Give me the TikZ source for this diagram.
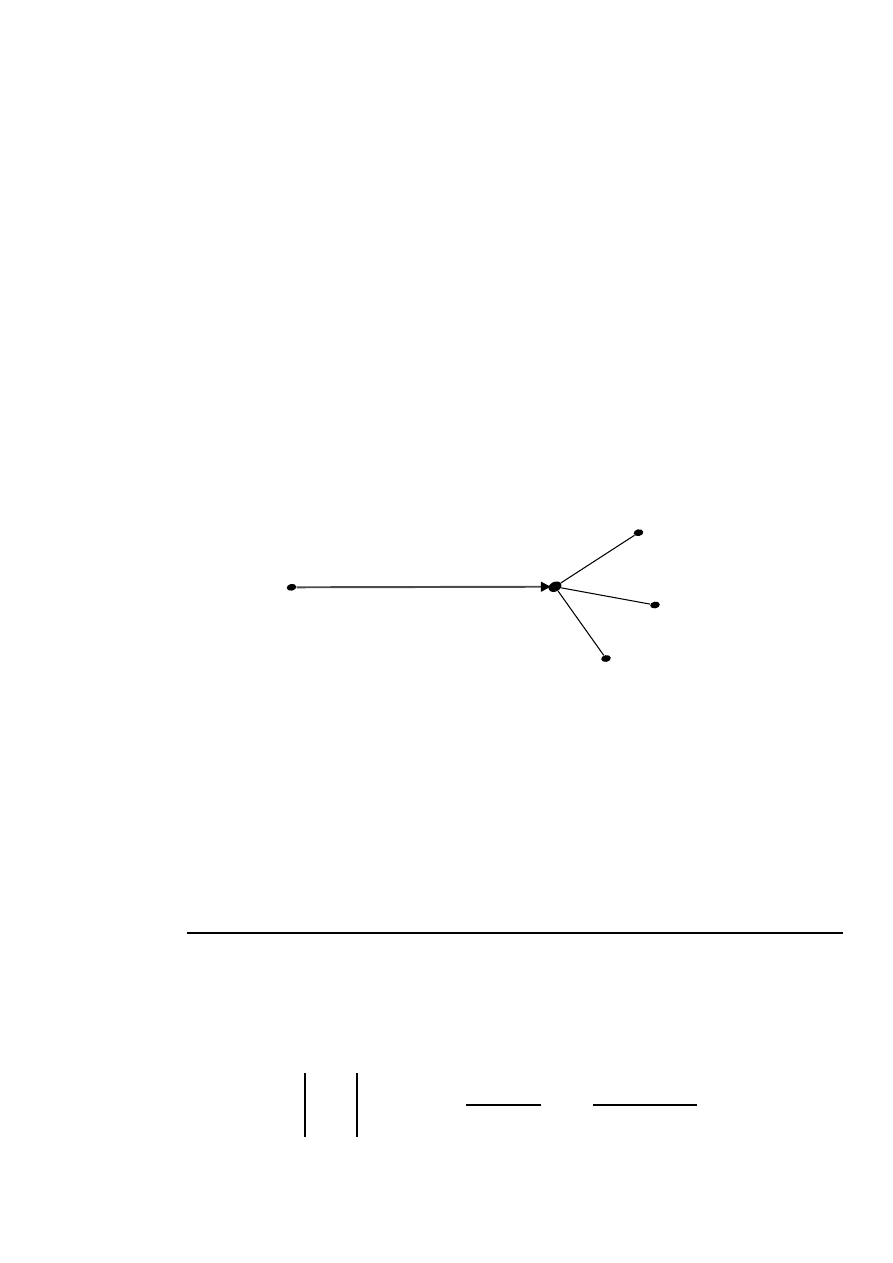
\documentclass[tikz,border=0pt]{standalone}
\usepackage{tikz}
\usetikzlibrary{arrows.meta, shapes.geometric}

\tikzset{
	vert/.style={ellipse, fill=black, inner sep=0pt, minimum width=6.5pt, minimum height=4.5pt, rotate=10},
	hub/.style={ellipse, fill=black, inner sep=0pt, minimum width=9pt, minimum height=6.5pt, rotate=25},
	spoke/.style={-, black, line width=0.7pt},
	bar/.style={-, black, line width=1.5pt, line cap=butt}
}

\begin{document}
\begin{tikzpicture}[x=0.023516cm, y=-0.023516cm, >=Triangle]

		% page frame
		\useasboundingbox (0,0) rectangle (893,1263);

		% graph vertices
		\node[vert] (L) at (291.5,587.3) {};
		\node[hub] (C) at (555,586.7) {};
		\node[vert] (T) at (638.5,532.7) {};
		\node[vert] (R) at (655,605) {};
		\node[vert] (B) at (606,658.5) {};

		% edges
		\draw [->,black!70,line width=1.3pt,shorten >=-1.5pt,arrows={-Triangle[length=6.5pt,width=6.5pt,black]}] (L)--(C);
		\draw [spoke] (C)--(T);
		\draw [spoke] (C)--(R);
		\draw [spoke] (C)--(B);

		% rule
		\coordinate (rA) at (186.7,932.7);
		\coordinate (rB) at (843.3,932.7);
		\draw [bar,line width=1.4pt] (rA)--(rB);

		% short strokes
		\draw [bar] (305,1073)--(305,1137);
		\draw [bar] (357,1073)--(357,1137);
		\draw [bar] (466,1105)--(541,1105);
		\draw [bar] (593,1105)--(697,1105);
\end{tikzpicture}
\end{document}
